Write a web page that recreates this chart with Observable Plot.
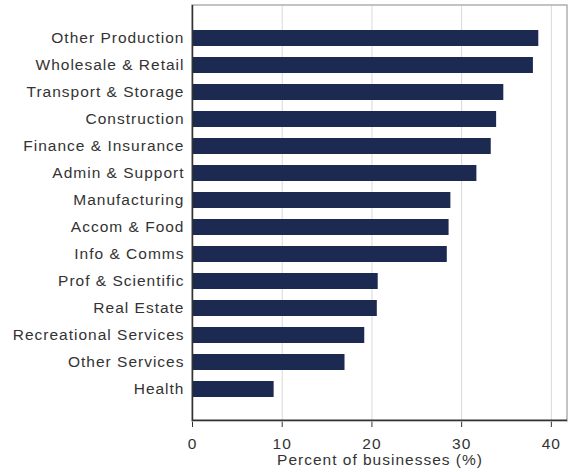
<!DOCTYPE html>
<html><head><meta charset="utf-8">
<script src="https://cdn.jsdelivr.net/npm/d3@7"></script>
<script src="https://cdn.jsdelivr.net/npm/@observablehq/plot@0.6"></script>
<style>body{margin:0;background:#fff}</style>
</head><body><div id="chart"></div>
<script>
const sectors = ["Other Production","Wholesale & Retail","Transport & Storage","Construction","Finance & Insurance","Admin & Support","Manufacturing","Accom & Food","Info & Comms","Prof & Scientific","Real Estate","Recreational Services","Other Services","Health"];
const percents = [38.6,38.0,34.7,33.9,33.3,31.7,28.8,28.6,28.4,20.7,20.6,19.2,17.0,9.1];
const xTicks = [0,10,20,30,40];
const xLabel = "Percent of businesses (%)";
const xMax = 41.8;
const data = sectors.map((s,i)=>({sector:s, value:percents[i]}));
const W = 571, H = 472, mT = 5, mB = 51;
const frameH = H - mT - mB;
const chart = Plot.plot({
  width:W, height:H, marginLeft:192, marginRight:4, marginTop:mT, marginBottom:mB,
  style:"font-family:'Liberation Sans', Arial, sans-serif; font-size:15.5px; letter-spacing:1px; background:#fff; color:#333;",
  x:{domain:[0,xMax], ticks:xTicks, tickSize:6, tickPadding:10, label:xLabel, labelAnchor:"center", labelOffset:43, labelArrow:"none"},
  y:{domain:sectors, paddingInner:0.41, paddingOuter:0.76, tickSize:0, tickPadding:8, label:null},
  marks:[
    Plot.gridX(xTicks, {stroke:"#d9d9d9", strokeOpacity:1}),
    Plot.rect([0], {x1:0, x2:xMax, fill:"none", stroke:"#b0b0b0", strokeWidth:1.5}),
    Plot.barX(data, {x:"value", y:"sector", fill:"#1c2951"}),
    Plot.rect([0], {x1:0, x2:xMax, fill:"#333", insetTop:frameH - 1.5}),
    Plot.ruleX([0], {stroke:"#333", strokeWidth:1.5})
  ]
});
document.getElementById("chart").appendChild(chart);
</script>
</body></html>
